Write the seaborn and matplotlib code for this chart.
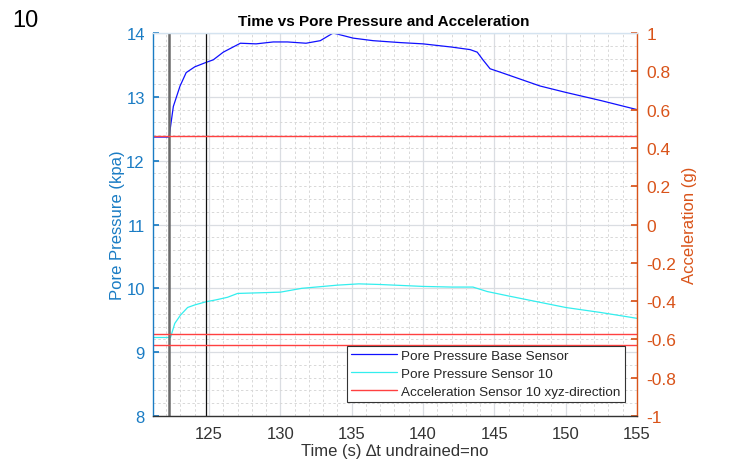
import numpy as np
import pandas as pd
import matplotlib
matplotlib.use("Agg")
import matplotlib.pyplot as plt
from matplotlib.ticker import MultipleLocator
import seaborn as sns

# values
time_base = [121.0, 122.2, 122.5, 122.97, 123.4, 124.0, 124.8, 125.3, 126.0, 127.2,
             128.3, 129.5, 130.5, 131.8, 132.8, 133.7, 135.1, 136.5, 138.4, 140.0,
             142.0, 143.3, 143.8, 144.2, 144.7, 145.5, 148.2, 150.0, 152.5, 155.0]
pressure_base = [12.37, 12.37, 12.85, 13.17, 13.38, 13.47, 13.54, 13.58, 13.70, 13.84,
                 13.83, 13.86, 13.86, 13.84, 13.88, 14.0, 13.92, 13.88, 13.85, 13.83,
                 13.78, 13.74, 13.70, 13.58, 13.44, 13.38, 13.17, 13.07, 12.94, 12.80]

time_s10 = [121.0, 122.3, 122.6, 123.0, 123.5, 124.0, 124.8, 125.5, 126.3, 127.0,
            128.5, 130.0, 131.5, 132.5, 134.0, 135.5, 137.0, 140.0, 142.0, 143.5,
            144.5, 146.0, 148.0, 150.0, 152.5, 155.0]
pressure_s10 = [9.23, 9.23, 9.45, 9.58, 9.70, 9.74, 9.79, 9.82, 9.86, 9.92,
                9.93, 9.94, 10.0, 10.02, 10.05, 10.07, 10.06, 10.03, 10.02, 10.02,
                9.95, 9.88, 9.79, 9.70, 9.62, 9.53]

time_acc = [121.0, 155.0]
acc_x = [0.462, 0.462]
acc_y = [-0.572, -0.572]
acc_z = [-0.628, -0.628]

event_times = [122.2, 124.8]

left_color = "#1A7CC4"
right_color = "#D95319"

sns.set_theme(style="white")
plt.rcParams["font.family"] = ["Liberation Sans", "DejaVu Sans"]

fig = plt.figure(figsize=(7.36, 4.64), dpi=100)
ax = fig.add_axes([0.208, 0.1013, 0.6575, 0.8254])
ax2 = ax.twinx()

base_df = pd.DataFrame({"t": time_base, "p": pressure_base})
s10_df = pd.DataFrame({"t": time_s10, "p": pressure_s10})

sns.lineplot(data=base_df, x="t", y="p", ax=ax, color="#1010FF", lw=0.9,
             label="Pore Pressure Base Sensor", legend=False)
sns.lineplot(data=s10_df, x="t", y="p", ax=ax, color="#33EEEE", lw=0.9,
             label="Pore Pressure Sensor 10", legend=False)

for i, vals in enumerate([acc_x, acc_y, acc_z]):
    acc_df = pd.DataFrame({"t": time_acc, "a": vals})
    sns.lineplot(data=acc_df, x="t", y="a", ax=ax2, color="#FF4040", lw=1.0,
                 label="Acceleration Sensor 10 xyz-direction" if i == 0 else None,
                 legend=False)

ax.axvline(event_times[0], color="#6a6a6a", lw=1.8, zorder=3)
ax.axvline(event_times[1], color="#111111", lw=0.9, zorder=3)

ax.set_xlim(121.08, 155)
ax.set_ylim(8, 14)
ax2.set_ylim(-1, 1)

ax.xaxis.set_major_locator(MultipleLocator(5))
ax.xaxis.set_minor_locator(MultipleLocator(1))
ax.yaxis.set_major_locator(MultipleLocator(1))
ax.yaxis.set_minor_locator(MultipleLocator(0.2))
ax2.yaxis.set_major_locator(MultipleLocator(0.2))
ax2.yaxis.set_major_formatter(plt.FuncFormatter(lambda v, p: f"{v:g}" if abs(v) > 1e-9 else "0"))

ax.grid(True, which="major", color="#dadde2", lw=0.9)
ax.grid(True, which="minor", color="#d8d8d8", lw=0.7, ls=(0, (2.5, 2.5)))
ax.set_axisbelow(True)
ax2.grid(False)

ax.tick_params(axis="x", which="major", direction="in", length=4, colors="#333333",
               labelsize=12, pad=7)
ax.tick_params(axis="x", which="minor", direction="in", length=0)
ax.tick_params(axis="y", which="major", direction="in", length=4, colors=left_color,
               labelsize=12, labelcolor=left_color, pad=6)
ax.tick_params(axis="y", which="minor", length=0)
ax2.tick_params(axis="y", direction="in", length=4, colors=right_color,
                labelsize=12.5, labelcolor=right_color, pad=7)

for sp in ax.spines.values():
    sp.set_visible(False)
ax2.spines["left"].set_color(left_color)
ax2.spines["right"].set_color(right_color)
ax2.spines["bottom"].set_color("#333333")
ax2.spines["top"].set_color("#d4e3f0")
for sp in ax2.spines.values():
    sp.set_linewidth(1.0)

ax.set_xlabel("Time (s) \u2206t undrained=no", fontsize=12, color="#333333", labelpad=2)
ax.set_ylabel("Pore Pressure (kpa)", fontsize=12, color=left_color, labelpad=1)
ax2.set_ylabel("Acceleration (g)", fontsize=12, color=right_color, labelpad=4)
ax.set_title("Time vs Pore Pressure and Acceleration", fontsize=11,
             fontweight="bold", color="black", pad=6, x=0.477)

h1, l1 = ax.get_legend_handles_labels()
h2, l2 = ax2.get_legend_handles_labels()
leg = ax2.legend(h1 + h2, l1 + l2, loc="lower right", fontsize=9.7, frameon=True,
                 fancybox=False, edgecolor="#333333", framealpha=1,
                 bbox_to_anchor=(0.98, 0.03), borderpad=0.3, labelspacing=0.4,
                 handlelength=3.4, handletextpad=0.3, borderaxespad=0.2)
leg.get_frame().set_linewidth(0.8)

fig.text(0.016, 0.955, "10", fontsize=17, color="black", ha="left", va="center")

fig.savefig("out.png", dpi=100)
